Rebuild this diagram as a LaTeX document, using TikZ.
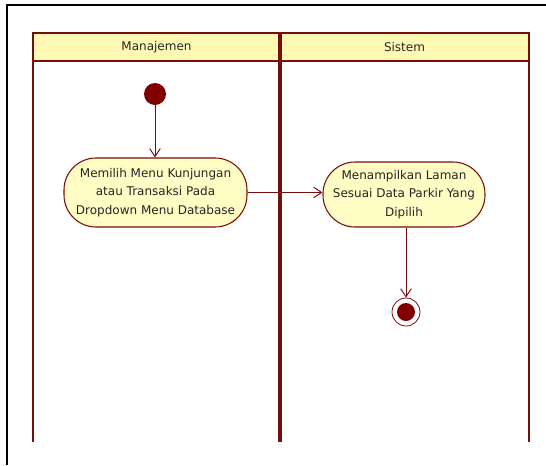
\documentclass[tikz,border=0pt]{standalone}
\usepackage{fontspec}
\setmainfont{DejaVu Sans}
\usetikzlibrary{arrows.meta}
\definecolor{umlline}{RGB}{118,14,14}
\definecolor{umldot}{RGB}{128,0,0}
\definecolor{umlfill}{RGB}{255,252,196}
\definecolor{umlhead}{RGB}{255,249,180}
\tikzset{
  laneline/.style={draw=umlline, line width=1.6pt},
  lanediv/.style={draw=umlline, line width=2.8pt},
  lanetitle/.style={font=\fontsize{9}{11}\selectfont, text=black!85},
  actionbox/.style={draw=umlline, fill=umlfill, line width=0.8pt,
    rounded corners=24pt, align=center, inner sep=0pt,
    font=\fontsize{9}{13.8}\selectfont, text=black!85},
  startdot/.style={circle, fill=umldot, inner sep=0pt, minimum size=16.5pt},
  enddot/.style={circle, draw=umlline, fill=white, line width=0.6pt,
    inner sep=0pt, minimum size=21pt},
  flow/.style={draw=umlline, line width=0.75pt,
    -{Straight Barb[length=6pt, width=8pt, line width=0.75pt]}}
}
\begin{document}
\begin{tikzpicture}[x=0.75pt, y=-0.75pt]
\useasboundingbox (0,0) rectangle (546,465);
% outer frame
\draw[black, line width=1.6pt] (7,465) -- (7,5) -- (546,5);
% swimlane headers
\fill[umlhead] (33,33) rectangle (529,61);
\draw[laneline] (33,33) rectangle (529,61);
\draw[laneline] (33,61) -- (33,442);
\draw[laneline] (529,61) -- (529,442);
\draw[lanediv] (280,33) -- (280,442);
\node[lanetitle] (laneA) at (156.5,47) {Manajemen};
\node[lanetitle] (laneB) at (404.5,47) {Sistem};
% activity nodes
\node[startdot] (start) at (155,94) {};
\node[actionbox, minimum width=137.25pt, minimum height=51.75pt] (act1) at (155.5,192.5)
  {Memilih Menu Kunjungan\\atau Transaksi Pada\\Dropdown Menu Database};
\node[actionbox, minimum width=121.5pt, minimum height=48.75pt] (act2) at (404,194.5)
  {Menampilkan Laman\\Sesuai Data Parkir Yang\\Dipilih};
\node[enddot] (end) at (406,312) {};
\fill[umldot] (end.center) circle (6.75pt);
% control flows
\draw[flow] (start) -- (act1.north -| start);
\draw[flow] (act1.east) -- (act1.east -| act2.west);
\draw[flow] (end.north |- act2.south) -- (end.north);
\end{tikzpicture}
\end{document}
